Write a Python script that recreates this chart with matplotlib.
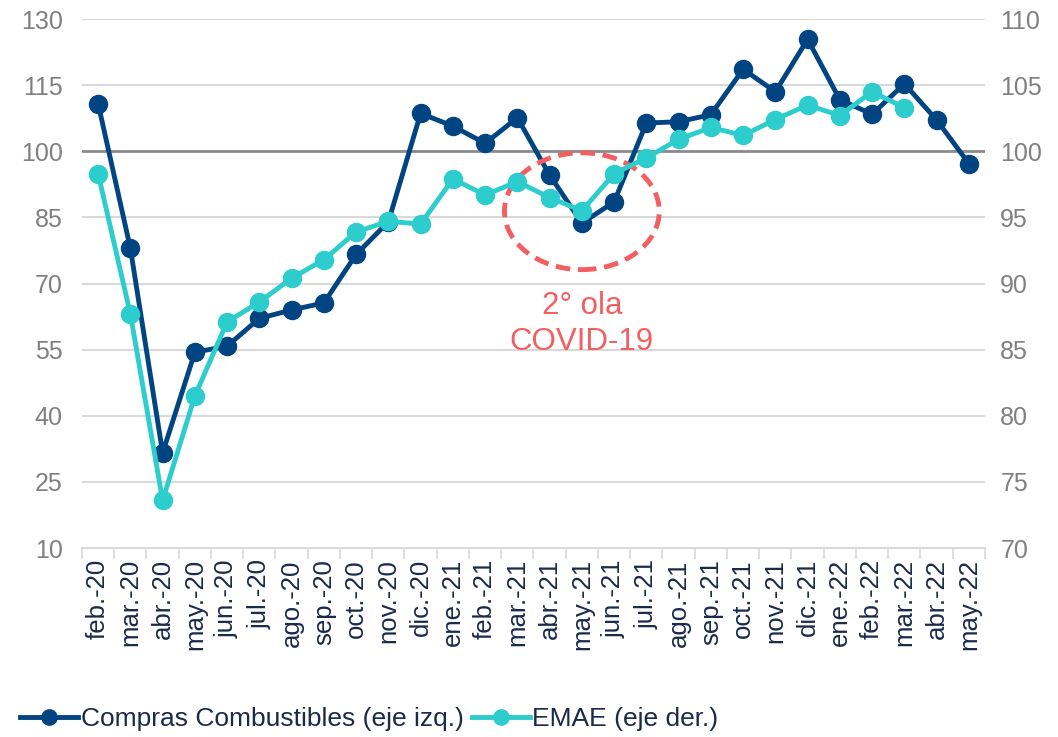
import matplotlib
matplotlib.use("Agg")
import matplotlib.pyplot as plt
from matplotlib.patches import Ellipse
from matplotlib.lines import Line2D

months = ["feb.-20", "mar.-20", "abr.-20", "may.-20", "jun.-20", "jul.-20", "ago.-20",
          "sep.-20", "oct.-20", "nov.-20", "dic.-20", "ene.-21", "feb.-21", "mar.-21",
          "abr.-21", "may.-21", "jun.-21", "jul.-21", "ago.-21", "sep.-21", "oct.-21",
          "nov.-21", "dic.-21", "ene.-22", "feb.-22", "mar.-22", "abr.-22", "may.-22"]
compras = [110.8, 78.0, 31.6, 54.4, 55.8, 62.1, 64.0, 65.6, 76.6, 84.0, 108.6, 105.7,
           101.8, 107.6, 94.6, 83.7, 88.5, 106.4, 106.7, 108.3, 118.6, 113.5, 125.4,
           111.7, 108.4, 115.3, 107.1, 97.2]
emae = [98.3, 87.7, 73.6, 81.5, 87.1, 88.6, 90.4, 91.8, 93.9, 94.7, 94.5, 97.9, 96.7,
        97.7, 96.5, 95.5, 98.3, 99.5, 100.9, 101.8, 101.2, 102.4, 103.5, 102.7, 104.5,
        103.3]
left_ticks = [10, 25, 40, 55, 70, 85, 100, 115, 130]
right_ticks = [70, 75, 80, 85, 90, 95, 100, 105, 110]

DARK = "#004481"
TEAL = "#2DCCCD"
CORAL = "#F35E61"
GRAY = "#808080"
NAVY = "#1B2A4A"

plt.rcParams["font.family"] = ["Liberation Sans", "DejaVu Sans"]

fig = plt.figure(figsize=(10.58, 7.37), dpi=100)
ax = fig.add_axes([0.0775, 0.2564, 0.8535, 0.7178])
ax2 = ax.twinx()

x = list(range(len(months)))
ax.set_xlim(-0.5, len(months) - 0.5)
ax.set_ylim(10, 130)
ax2.set_ylim(70, 110)
ax.set_yticks(left_ticks)
ax2.set_yticks(right_ticks)

for v in left_ticks:
    if v == 10:
        continue
    ax.axhline(v, color="#D9D9D9", lw=1.5, zorder=0)
ax.axhline(100, color="#8C8C8C", lw=2, zorder=1)
ax.axhline(10, color="#D9D9D9", lw=1.5, zorder=0, clip_on=False)

for s in list(ax.spines.values()) + list(ax2.spines.values()):
    s.set_visible(False)

ax.plot(x, compras, color=DARK, lw=3.5, marker="o", ms=13, zorder=3, clip_on=False)
ax2.plot(x[:len(emae)], emae, color=TEAL, lw=3.5, marker="o", ms=13, zorder=4, clip_on=False)
ax2.patch.set_visible(False)

# Ellipse annotation
ell = Ellipse((15, 86.4), width=4.8, height=26.5, fill=False, edgecolor=CORAL,
              lw=3.5, linestyle=(0, (3, 1.6)), zorder=5)
ax.add_patch(ell)
ax.text(15, 68.3, "2° ola\nCOVID-19", color=CORAL, fontsize=22.5, ha="center",
        va="top", linespacing=1.25, zorder=6)

# ticks
ax.set_xticks(x)
ax.set_xticklabels(months, rotation=90, fontsize=18.5, color=NAVY)
ax.tick_params(axis="x", length=0, pad=8)
ax.set_xticks([i - 0.5 for i in range(len(months) + 1)], minor=True)
ax.tick_params(axis="x", which="minor", length=8, width=1.2, color="#D9D9D9")
ax.tick_params(axis="y", length=0, labelsize=18, labelcolor=GRAY, pad=14)
ax2.tick_params(axis="y", length=0, labelsize=18, labelcolor=GRAY, pad=11)

handles = [Line2D([], [], color=DARK, lw=3.5, marker="o", ms=11),
           Line2D([], [], color=TEAL, lw=3.5, marker="o", ms=11)]
leg = fig.legend(handles, ["Compras Combustibles (eje izq.)", "EMAE (eje der.)"],
                 loc="lower left", bbox_to_anchor=(0.004, -0.014), ncol=2, frameon=False,
                 fontsize=19, handlelength=2.2, handletextpad=0.1, columnspacing=0.3,
                 borderaxespad=0.2)
for t in leg.get_texts():
    t.set_color(NAVY)

fig.savefig("out.png", dpi=100)
